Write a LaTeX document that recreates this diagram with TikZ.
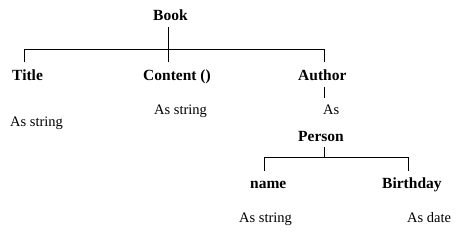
\documentclass[tikz,border=0pt]{standalone}
\usepackage{fontspec}
\setmainfont{Liberation Serif}
\begin{document}
\begin{tikzpicture}[x=1pt,y=-1pt,
  head/.style={font=\fontsize{15.5}{18}\selectfont\bfseries, inner sep=0pt, anchor=base west},
  typ/.style={font=\fontsize{14.5}{17}\selectfont, inner sep=0pt, anchor=base west},
  conn/.style={line width=1pt, black}]
\useasboundingbox (0,0) rectangle (469,246);
% nodes
\node[head] (book) at (153,21) {Book};
\node[head] (title) at (12,81) {Title};
\node[head] (content) at (143,81) {Content ()};
\node[head] (author) at (298,81) {Author};
\node[typ] (titletype) at (10,127) {As string};
\node[typ] (contenttype) at (154,114) {As string};
\node[typ] (as) at (323,114) {As};
\node[head] (person) at (298,141) {Person};
\node[head] (name) at (250,188) {name};
\node[head] (birthday) at (382,188) {Birthday};
\node[typ] (nametype) at (239,222) {As string};
\node[typ] (bdtype) at (407,222) {As date};
% junction coordinates
\coordinate (j1) at (168,50);
\coordinate (jl) at (24,50);
\coordinate (jr) at (324,50);
\coordinate (tl) at (24,62);
\coordinate (tc) at (168,62);
\coordinate (tr) at (324,62);
\coordinate (a1) at (324,87);
\coordinate (a2) at (324,98);
\coordinate (p1) at (324,147);
\coordinate (j2) at (324,157);
\coordinate (jn) at (264,157);
\coordinate (jb) at (408,157);
\coordinate (tn) at (264,171);
\coordinate (tb) at (408,171);
% connectors
\draw[conn] ([yshift=-6pt]book.south -| j1) -- (j1);
\draw[conn] (tl) -- (jl) -- (jr) -- (tr);
\draw[conn] (j1) -- (tc);
\draw[conn] (a1) -- (a2);
\draw[conn] (p1) -- (j2);
\draw[conn] (tn) -- (jn) -- (jb) -- (tb);
\end{tikzpicture}
\end{document}
